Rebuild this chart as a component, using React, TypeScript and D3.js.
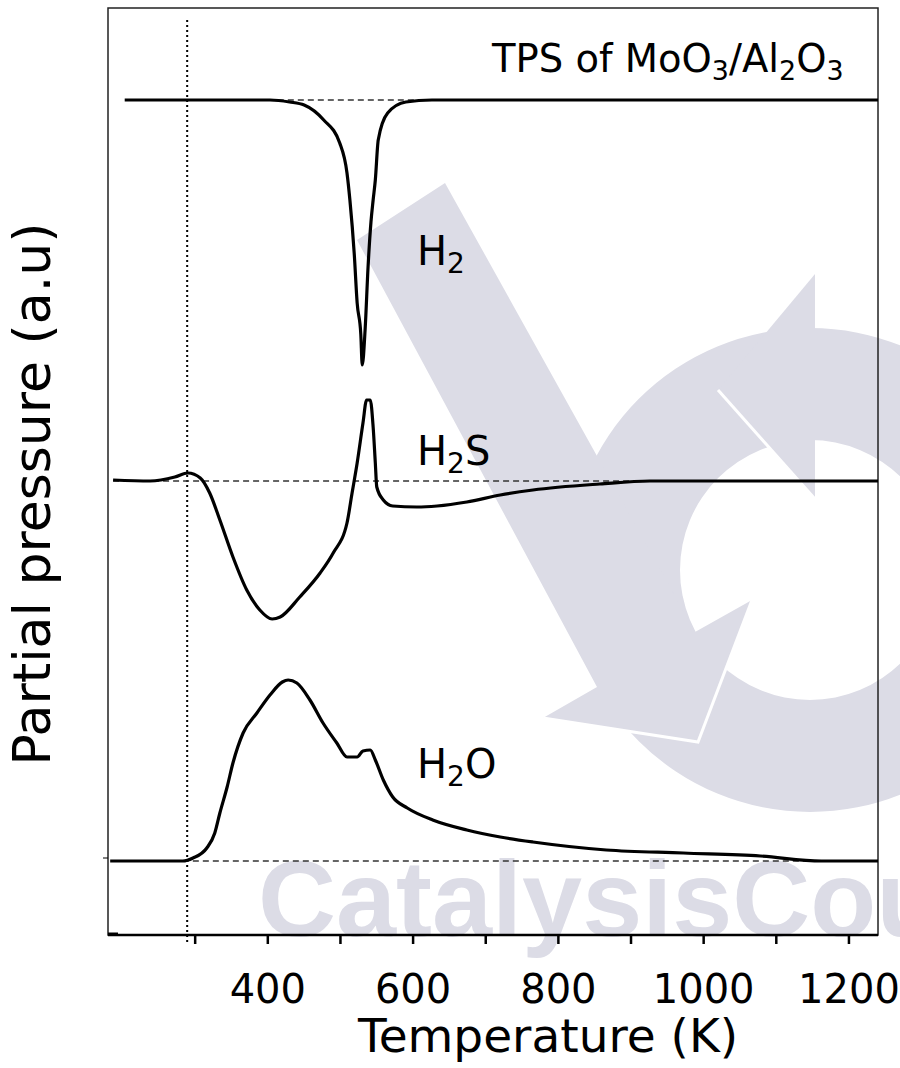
import React from 'react';
import * as d3 from 'd3';

const W = 900;
const H = 1068;
const frame = { left: 108, right: 878, top: 8, bottom: 935 };

// temperature axis
const tempTicks = [300, 400, 500, 600, 700, 800, 900, 1000, 1100, 1200];
const tempLabels = [400, 600, 800, 1000, 1200];

// H2 trace (consumption dip)
const h2T = [203, 403, 430, 450, 477, 499, 509, 513, 519, 523, 528, 530, 534, 538, 542, 545, 548, 552, 565, 590, 626, 1240];
const h2P = [8.35, 8.35, 8.33, 8.3, 8.15, 7.92, 7.62, 7.35, 6.81, 6.32, 6.01, 5.7, 6.06, 6.68, 7.13, 7.35, 7.55, 7.95, 8.22, 8.33, 8.35, 8.35];

// H2S trace
const h2sT = [187, 238, 272, 290, 307, 320, 334, 352, 371, 389, 406, 417, 444, 472, 490, 509, 516, 523, 531, 536, 541, 545, 548, 550, 559, 572, 605, 633, 674, 720, 765, 857, 926, 1240];
const h2sP = [4.55, 4.54, 4.58, 4.62, 4.57, 4.42, 4.15, 3.78, 3.45, 3.25, 3.16, 3.18, 3.38, 3.62, 3.82, 4.12, 4.42, 4.72, 5.12, 5.35, 5.35, 5.08, 4.72, 4.48, 4.35, 4.29, 4.28, 4.29, 4.33, 4.4, 4.45, 4.51, 4.54, 4.54];

// H2O trace
const h2oT = [183, 283, 297, 316, 327, 334, 344, 352, 366, 385, 403, 420, 428, 440, 458, 476, 495, 509, 523, 531, 541, 548, 559, 572, 592, 627, 674, 720, 765, 866, 972, 1078, 1162, 1240];
const h2oP = [0.74, 0.74, 0.77, 0.87, 1.02, 1.22, 1.48, 1.72, 2.02, 2.22, 2.4, 2.53, 2.55, 2.52, 2.35, 2.12, 1.92, 1.78, 1.78, 1.84, 1.85, 1.75, 1.55, 1.38, 1.27, 1.15, 1.05, 0.98, 0.93, 0.85, 0.82, 0.79, 0.74, 0.74];

// dashed baselines: [value, from T, to T]
const baselines: [number, number, number][] = [
  [8.35, 400, 630],
  [4.54, 187, 1240],
  [0.74, 283, 1240],
];
const markerT = 289; // dotted start line

const FONT = '"DejaVu Sans", Verdana, sans-serif';

// chemical formula as text with subscripts
const Formula = ({ x, y, parts, size, anchor = 'start' }: any) => {
  const sub = size * 0.7;
  const shift = size * 0.21;
  let low = false;
  return (
    <text x={x} y={y} fontFamily={FONT} fontSize={size} textAnchor={anchor} fill="#000">
      {parts.map((p: string, i: number) => {
        const isSub = /^\d+$/.test(p);
        let dy = 0;
        if (isSub && !low) { dy = shift; low = true; }
        else if (!isSub && low) { dy = -shift; low = false; }
        return (
          <tspan key={i} dy={dy} fontSize={isSub ? sub : size}>{p}</tspan>
        );
      })}
    </text>
  );
};

const Watermark = () => {
  const c = '#dcdce6';
  const ring = d3.arc()({ innerRadius: 130, outerRadius: 242, startAngle: 0, endAngle: 2 * Math.PI } as any) || '';
  const vArrow = [[357, 240], [445, 183], [695, 632], [752, 600], [698, 742], [543, 718], [597, 687]];
  const topHead = [[815, 274], [718, 390], [815, 499]];
  const poly = (pts: number[][]) => 'M' + pts.map((p) => p.join(',')).join('L') + 'Z';
  return (
    <g>
      <path d={ring} transform="translate(810,570)" fill={c} />
      <path d={poly(topHead)} fill={c} />
      <path d="M718,390L815,499" stroke="#fff" strokeWidth={3} />
      <path d={poly(vArrow)} fill={c} />
      <path d="M752,600L698,742L543,718" stroke="#fff" strokeWidth={3} fill="none" />
      <text x={258} y={936} fontFamily='"Liberation Sans", Arial, sans-serif' fontWeight="bold" fontSize={108} fill={c}>
        CatalysisCou
      </text>
    </g>
  );
};

export default function App() {
  const x = d3.scaleLinear().domain([180, 1240]).range([frame.left, frame.right]);
  const y = d3.scaleLinear().domain([0, 9.27]).range([frame.bottom, frame.top]);
  const line = d3
    .line<[number, number]>()
    .x((d) => x(d[0]))
    .y((d) => y(d[1]))
    .curve(d3.curveMonotoneX);

  const series = [
    { t: h2T, p: h2P },
    { t: h2sT, p: h2sP },
    { t: h2oT, p: h2oP },
  ];

  return (
    <svg width={W} height={H} style={{ position: 'absolute', left: 0, top: 0, background: '#fff' }}>
      <rect width={W} height={H} fill="#fff" />
      <Watermark />

      {/* frame */}
      <rect x={frame.left} y={frame.top} width={frame.right - frame.left} height={frame.bottom - frame.top}
        fill="none" stroke="#222" strokeWidth={1.5} />
      <line x1={frame.left} x2={frame.right} y1={frame.bottom} y2={frame.bottom} stroke="#000" strokeWidth={2.5} />
      <line x1={frame.left} x2={frame.left + 10} y1={frame.bottom - 1} y2={frame.bottom - 1} stroke="#000" strokeWidth={3} />
      <line x1={frame.left - 5} x2={frame.left} y1={y(0.77)} y2={y(0.77)} stroke="#000" strokeWidth={1} />

      {tempTicks.map((t) => (
        <line key={t} x1={x(t)} x2={x(t)} y1={frame.bottom} y2={frame.bottom + 9} stroke="#000" strokeWidth={2.5} />
      ))}
      {tempLabels.map((t) => (
        <text key={t} x={x(t)} y={1003} textAnchor="middle" fontFamily={FONT} fontSize={40} fill="#000">{t}</text>
      ))}

      {/* dotted start marker */}
      <line x1={x(markerT)} x2={x(markerT)} y1={y(9.15)} y2={frame.bottom + 10}
        stroke="#000" strokeWidth={2} strokeDasharray="2,3" />

      {/* dashed baselines */}
      {baselines.map(([v, t0, t1], i) => (
        <line key={i} x1={x(t0)} x2={x(t1)} y1={y(v)} y2={y(v)} stroke="#333" strokeWidth={1.5} strokeDasharray="6,4" />
      ))}

      {/* traces */}
      {series.map((s, i) => (
        <path key={i} d={line(s.t.map((t, j) => [t, s.p[j]] as [number, number])) || ''}
          fill="none" stroke="#000" strokeWidth={3.2} strokeLinejoin="round" />
      ))}

      <Formula x={417} y={265} parts={['H', '2']} size={40} />
      <Formula x={417} y={465} parts={['H', '2', 'S']} size={40} />
      <Formula x={417} y={778} parts={['H', '2', 'O']} size={40} />
      <Formula x={492} y={72} parts={['TPS of MoO', '3', '/Al', '2', 'O', '3']} size={38.5} />

      <text x={548} y={1052} textAnchor="middle" fontFamily={FONT} fontSize={47} fill="#000">Temperature (K)</text>
      <text transform="translate(50,494) rotate(-90)" textAnchor="middle" fontFamily={FONT} fontSize={52} fill="#000">
        Partial pressure (a.u)
      </text>
    </svg>
  );
}
